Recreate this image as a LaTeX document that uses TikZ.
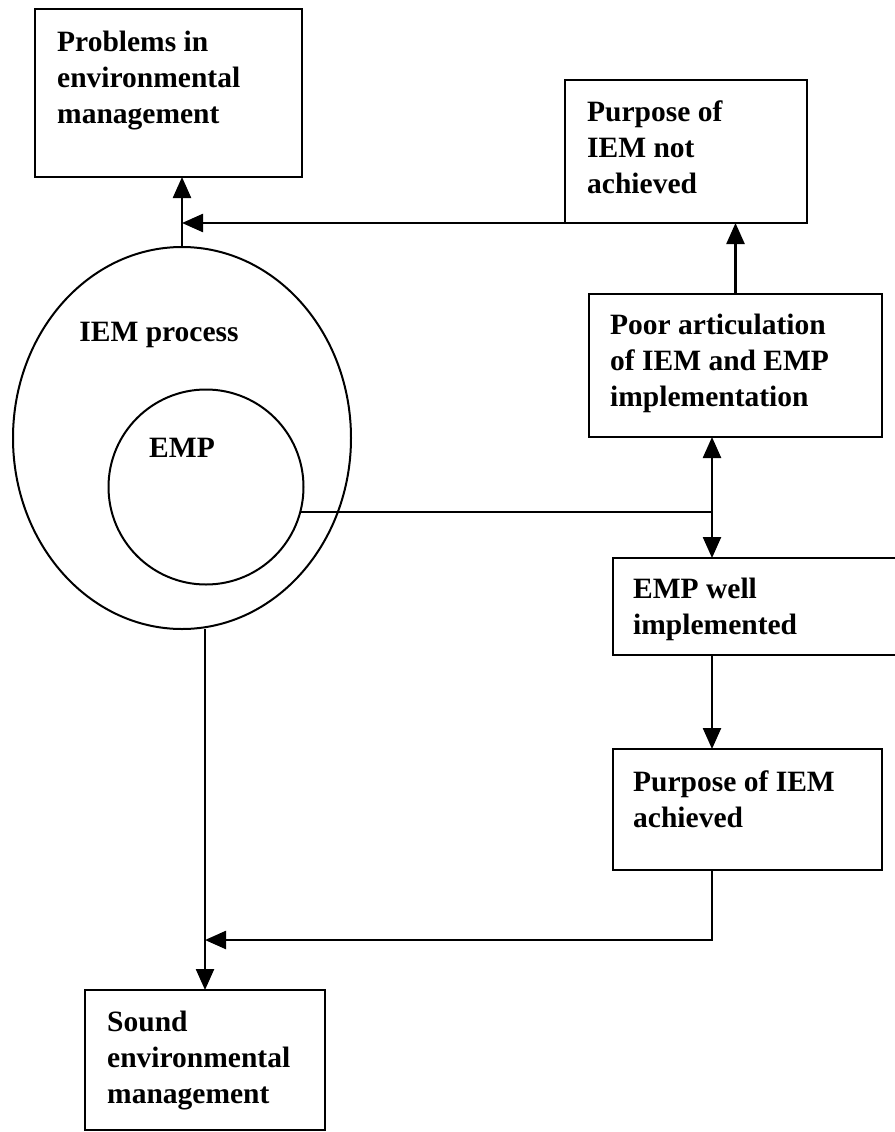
\documentclass[tikz,border=0pt]{standalone}
\usepackage{fontspec}
\setmainfont{Liberation Serif}
\usetikzlibrary{arrows.meta,shapes.geometric}
\begin{document}
\begin{tikzpicture}[x=1pt,y=-1pt,
  boxnode/.style={draw,line width=2.8pt,inner sep=0pt,outer sep=0pt,anchor=north west},
  lbl/.style={anchor=north west,inner sep=0pt,align=left,font=\fontsize{29.5}{36}\selectfont\bfseries},
  plain/.style={inner sep=0pt,anchor=base,font=\fontsize{29.5}{36}\selectfont\bfseries},
  conn/.style={line width=2.4pt,-{Triangle[length=21pt,width=18pt]}},
  dconn/.style={line width=2.4pt,{Triangle[length=21pt,width=18pt]}-{Triangle[length=21pt,width=18pt]}},
  line/.style={line width=2.4pt},
  ring/.style={draw,line width=2pt,inner sep=0pt,outer sep=0pt}]
\useasboundingbox (0,0) rectangle (894,1132);
% boxes
\node[boxnode,minimum width=267pt,minimum height=168pt] (b1) at (35,9) {};
\node[boxnode,minimum width=242pt,minimum height=143pt] (b2) at (565,80) {};
\node[boxnode,minimum width=293pt,minimum height=143pt] (b3) at (589,294) {};
\node[boxnode,minimum width=284pt,minimum height=97pt] (b4) at (613,558) {};
\node[boxnode,minimum width=269pt,minimum height=121pt] (b5) at (613,749) {};
\node[boxnode,minimum width=240pt,minimum height=140pt] (b6) at (85,990) {};
% labels
\node[lbl] (t1) at (57,26.3) {\strut Problems in\\environmental\\management};
\node[lbl] (t2) at (587,96.3) {\strut Purpose of\\IEM not\\achieved};
\node[lbl] (t3) at (610,309.3) {\strut Poor articulation\\of IEM and EMP\\implementation};
\node[lbl] (t4) at (633,573.3) {\strut EMP well\\implemented};
\node[lbl] (t5) at (633,766.3) {\strut Purpose of IEM\\achieved};
\node[lbl] (t6) at (107,1006.3) {\strut Sound\\environmental\\management};
% ellipse and circle
\node[ring,ellipse,minimum width=338pt,minimum height=382pt] (outer) at (182,438) {};
\node[ring,circle,minimum size=195pt] (inner) at (206,487) {};
\node[plain] (tiem) at (159,341.5) {IEM process};
\node[plain] (temp) at (182,457.5) {EMP};
% trunk coordinates
\coordinate (trunk) at (712,512);
\coordinate (jn) at (712,940);
% connectors
\draw[conn] (outer.north) -- (outer.north |- b1.south);
\draw[conn] (b2.south west) -- (b2.south west -| outer.north);
\draw[conn] (b3.north) -- (b3.north |- b2.south);
\draw[line] (inner.-15) -- (inner.-15 -| trunk);
\draw[dconn] (b3.south -| trunk) -- (b4.north -| trunk);
\draw[conn] (b4.south -| trunk) -- (b5.north -| trunk);
\draw[conn] (b5.south -| jn) -- (jn) -- (jn -| b6.north);
\draw[conn] (outer.south -| b6.north) -- (b6.north);
\end{tikzpicture}
\end{document}
